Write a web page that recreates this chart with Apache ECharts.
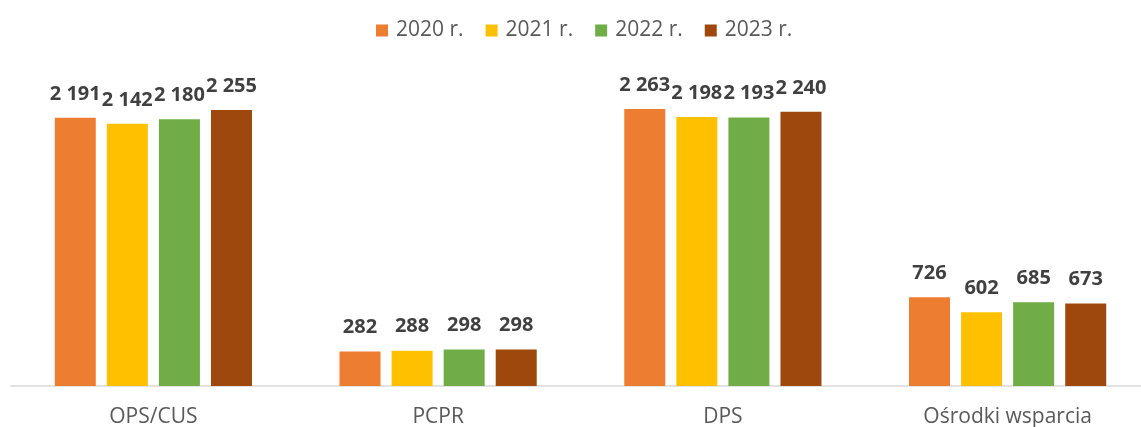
<!DOCTYPE html>
<html>
<head>
<meta charset="utf-8">
<script src="https://cdn.jsdelivr.net/npm/echarts@6/dist/echarts.min.js"></script>
<style>
  html, body { margin: 0; padding: 0; background: #fff; overflow: hidden; }
  #chart { width: 1150px; height: 427px; }
</style>
</head>
<body>
<div id="chart"></div>
<script>
// Institution types on the category axis
const categories = ['OPS/CUS', 'PCPR', 'DPS', 'Ośrodki wsparcia'];

// Yearly values per institution type
const years = ['2020 r.', '2021 r.', '2022 r.', '2023 r.'];
const values2020 = [2191, 282, 2263, 726];
const values2021 = [2142, 288, 2198, 602];
const values2022 = [2180, 298, 2193, 685];
const values2023 = [2255, 298, 2240, 673];

const colors = ['#ED7D31', '#FFC000', '#70AD47', '#9E480E'];
const seriesValues = [values2020, values2021, values2022, values2023];

// Thousands separated by a space, e.g. 2 191
const fmt = v => String(v).replace(/\B(?=(\d{3})+(?!\d))/g, ' ');

const chart = echarts.init(document.getElementById('chart'), null, { renderer: 'canvas' });

chart.setOption({
  animation: false,
  textStyle: { fontFamily: 'Open Sans' },
  legend: {
    top: 15,
    left: 371,
    itemWidth: 12,
    itemHeight: 12,
    itemGap: 22,
    icon: 'rect',
    textStyle: { fontSize: 21, color: '#595959', fontFamily: 'Open Sans', padding: [0, 0, 0, 3] },
    data: years
  },
  grid: { left: 11, right: 0, top: 80, bottom: 41, containLabel: false, outerBoundsMode: 'none' },
  xAxis: {
    type: 'category',
    data: categories,
    axisLine: { lineStyle: { color: '#D9D9D9', width: 1.5 } },
    axisTick: { show: false },
    axisLabel: { fontSize: 21, color: '#595959', margin: 21, fontFamily: 'Open Sans' }
  },
  yAxis: {
    type: 'value',
    min: 0,
    max: 2500,
    show: false,
    splitLine: { show: false }
  },
  series: years.map((name, i) => ({
    name,
    type: 'bar',
    data: seriesValues[i],
    barWidth: 41,
    barGap: '27%',
    itemStyle: { color: colors[i] },
    labelLayout: { moveOverlap: 'shiftX' },
    label: {
      show: true,
      position: 'top',
      distance: 14,
      fontSize: 20,
      fontWeight: 'bold',
      color: '#404040',
      fontFamily: 'Open Sans',
      padding: [0, 5],
      formatter: p => fmt(p.value)
    }
  }))
});
</script>
</body>
</html>
